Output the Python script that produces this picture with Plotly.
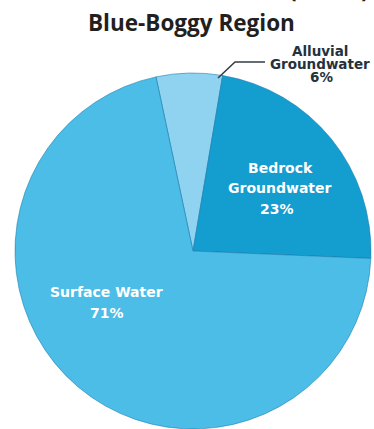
import plotly.graph_objects as go

# Water supply shares by source
sources = ["Alluvial Groundwater", "Bedrock Groundwater", "Surface Water"]
shares = [6, 23, 71]
label_lines = [["Alluvial", "Groundwater"], ["Bedrock", "Groundwater"], ["Surface Water"]]
slice_colors = ["#8fd3f1", "#149dcf", "#4bbde7"]

title_text = "Blue-Boggy Region"
year_text = "(2010)"

W, H = 374, 429

def px(x):
    return x / W

def py(y):
    return 1 - y / H

# pie centred at (193, 251) px with radius 178 px
cx, cy, r = 193, 251, 178

fig = go.Figure(
    go.Pie(
        labels=sources,
        values=shares,
        sort=False,
        direction="clockwise",
        rotation=-12,
        marker=dict(colors=slice_colors, line=dict(color="rgba(20,120,170,0.55)", width=1)),
        textinfo="none",
        hoverinfo="label+percent",
        showlegend=False,
        domain=dict(x=[px(cx - r), px(cx + r)], y=[py(cy + r), py(cy - r)]),
    )
)

# label placement per slice: x centre and y centre of each text line (px)
label_style = [
    dict(x=[320, 320, 321], y=[51, 64, 77], color="#25313b", size=13.5),
    dict(x=[280, 280, 277], y=[168, 188, 209], color="#ffffff", size=14),
    dict(x=[106, 107], y=[292, 313], color="#ffffff", size=14),
]

annotations = []
for lines, val, st in zip(label_lines, shares, label_style):
    texts = lines + [f"{val}%"]
    for t, x, y in zip(texts, st["x"], st["y"]):
        annotations.append(
            dict(
                text=f"<b>{t}</b>",
                x=px(x), y=py(y), xref="paper", yref="paper",
                xanchor="center", yanchor="middle",
                showarrow=False,
                font=dict(family="DejaVu Sans", size=st["size"], color=st["color"]),
            )
        )

# title
annotations.append(
    dict(
        text=title_text,
        x=px(191), y=py(23), xref="paper", yref="paper",
        xanchor="center", yanchor="middle", showarrow=False,
        font=dict(family="Open Sans", size=22.5, color="#231f20", weight=700),
    )
)
# upper heading line, mostly above the top edge
annotations.append(
    dict(
        text=year_text,
        x=px(372), y=py(7), xref="paper", yref="paper",
        xanchor="right", yanchor="bottom", showarrow=False,
        font=dict(family="Open Sans", size=28, color="#231f20", weight=600),
    )
)

# leader line for the small slice
leader = dict(
    type="path",
    xref="paper", yref="paper",
    path=f"M {px(218)} {py(78)} L {px(235)} {py(62)} L {px(265)} {py(62)}",
    line=dict(color="#333c44", width=1.5),
)

fig.update_layout(
    width=W, height=H,
    margin=dict(l=0, r=0, t=0, b=0),
    paper_bgcolor="white",
    plot_bgcolor="white",
    annotations=annotations,
    shapes=[leader],
)

fig.write_html("out.html")
